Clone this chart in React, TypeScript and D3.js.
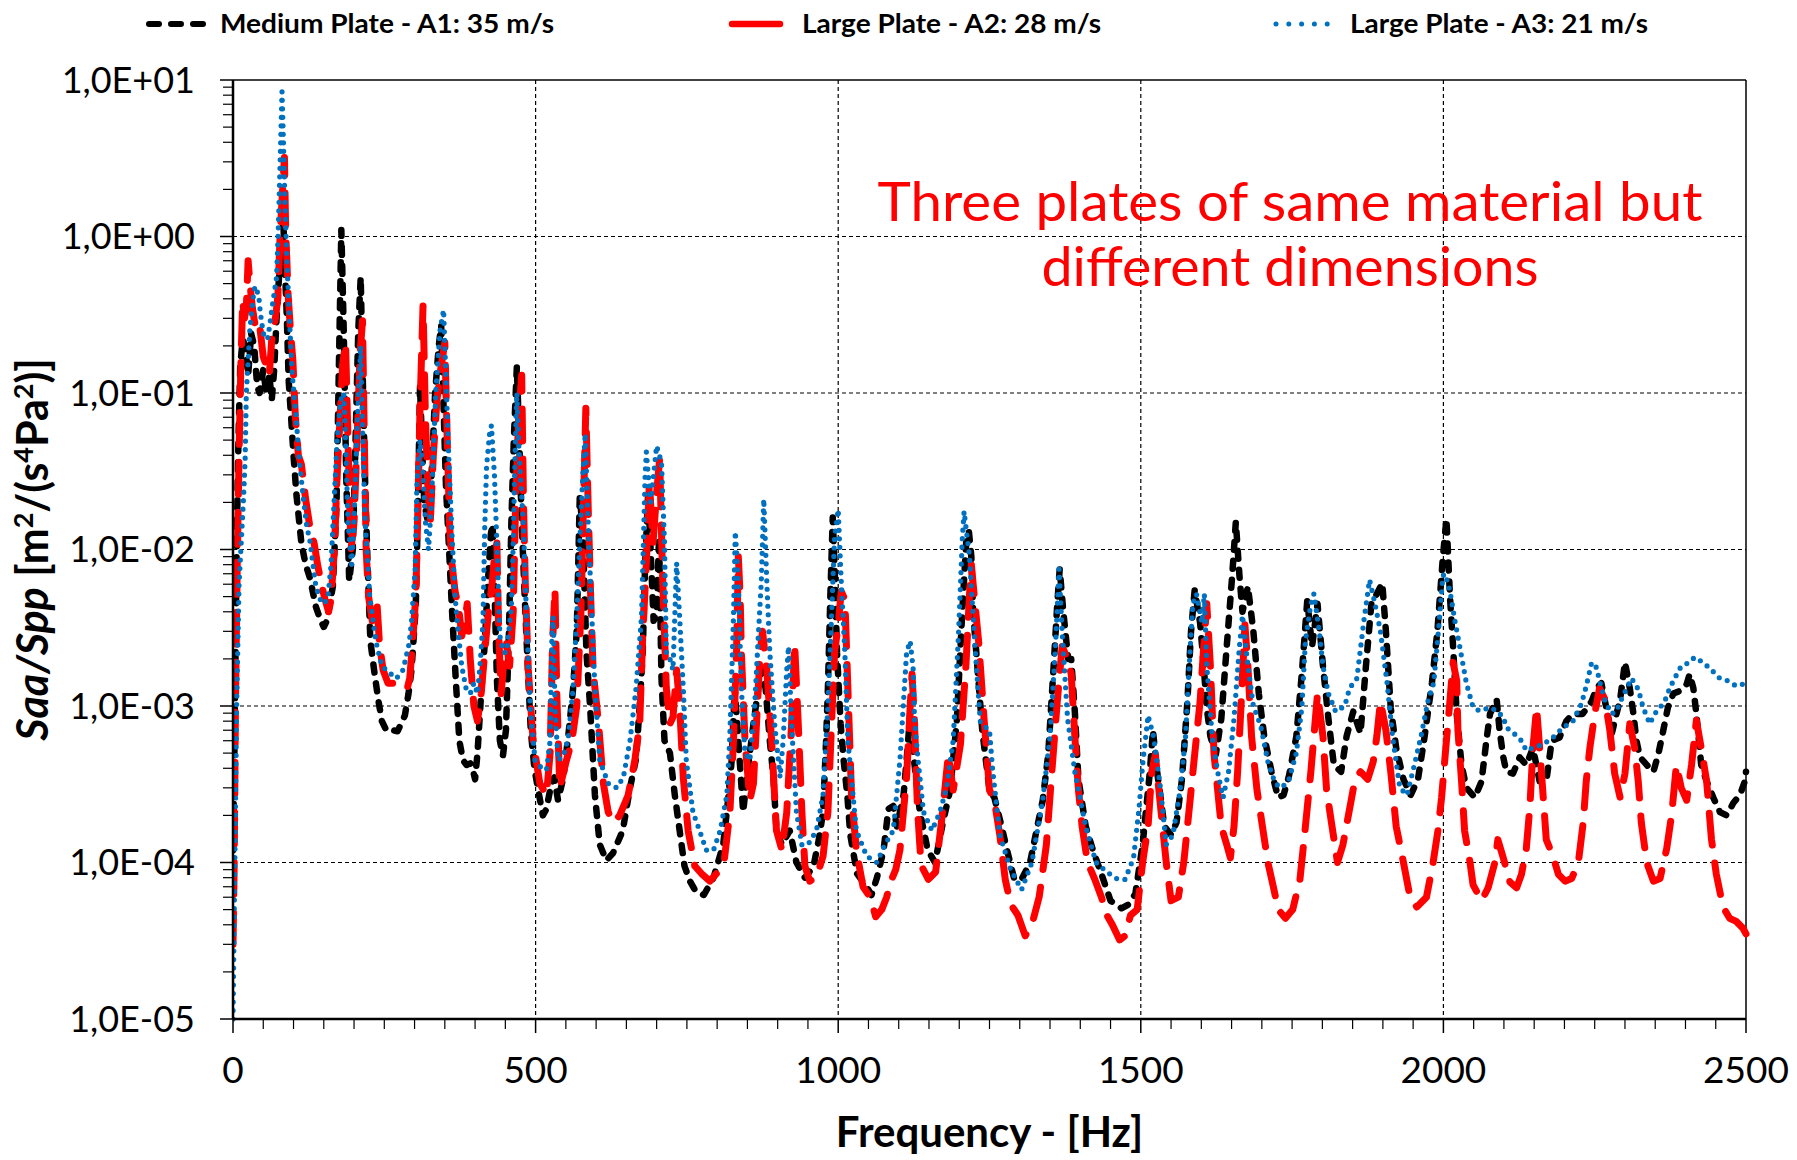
import React from 'react';
import * as d3 from 'd3';

// ---------- data (frequency [Hz], Saa/Spp value) ----------
const seriesNames = ['Medium Plate - A1: 35 m/s', 'Large Plate - A2: 28 m/s', 'Large Plate - A3: 21 m/s'];

const mediumA1: [number, number][] = [
  [0, 1.2e-4], [2, 4e-4], [4, 2e-3], [6, 0.01], [9, 0.05], [12, 0.15], [16, 0.22], [20, 0.2], [25, 0.13], [30, 0.24], [35, 0.2], [40, 0.11], [44, 0.1], [50, 0.14], [55, 0.1], [60, 0.13], [64, 0.09], [68, 0.14], [72, 0.3], [76, 0.55], [80, 0.7], [83, 1.3], [86, 0.6], [89, 0.3], [92, 0.12], [96, 0.07], [100, 0.04], [105, 0.022], [113, 0.011], [120, 0.008], [127, 0.0066], [137, 0.0043], [145, 0.0035], [150, 0.0032], [155, 0.0035], [160, 0.0045], [165, 0.0058], [171, 0.019], [175, 0.15], [179, 1.1], [183, 0.25], [187, 0.03], [192, 0.0063], [198, 0.01], [203, 0.06], [207, 0.25], [211, 0.55], [214, 0.15], [218, 0.03], [222, 0.009], [227, 0.0026], [234, 0.0016], [240, 0.0011], [246, 0.0008], [254, 0.00069], [264, 0.0007], [272, 0.00069], [284, 0.00087], [290, 0.0012], [295, 0.0017], [302, 0.0043], [305, 0.014], [309, 0.11], [313, 0.04], [316, 0.02], [322, 0.015], [328, 0.03], [334, 0.1], [340, 0.2], [344, 0.27], [348, 0.08], [352, 0.025], [357, 0.01], [362, 0.004], [368, 0.0015], [374, 0.0006], [380, 0.00045], [386, 0.00042], [392, 0.00043], [397, 0.00038], [400, 0.00034], [404, 0.0005], [410, 0.0012], [416, 0.0025], [421, 0.006], [426, 0.0125], [429, 0.0145], [432, 0.006], [436, 0.0015], [441, 0.0006], [446, 0.00048], [451, 0.0007], [456, 0.003], [460, 0.015], [464, 0.05], [469, 0.147], [473, 0.05], [477, 0.015], [482, 0.005], [487, 0.0018], [492, 0.0007], [498, 0.0004], [505, 0.00028], [512, 0.0002], [518, 0.00022], [526, 0.00032], [531, 0.00035], [537, 0.00025], [546, 0.00035], [555, 0.0007], [562, 0.0013], [568, 0.003], [573, 0.022], [578, 0.013], [584, 0.0022], [590, 0.001], [598, 0.00027], [606, 0.00013], [617, 0.000103], [628, 0.000115], [644, 0.00016], [656, 0.0003], [666, 0.00046], [672, 0.001], [677, 0.0022], [681, 0.008], [686, 0.023], [690, 0.01], [695, 0.0035], [700, 0.004], [704, 0.012], [708, 0.0015], [713, 0.0006], [722, 0.0005], [730, 0.00027], [738, 0.00016], [746, 0.000095], [755, 0.000076], [765, 0.000065], [778, 0.000062], [794, 0.00008], [810, 0.00013], [818, 0.00025], [824, 0.00045], [829, 0.0013], [835, 0.0006], [843, 0.00021], [849, 0.00035], [860, 0.00077], [868, 0.0013], [873, 0.0017], [880, 0.0013], [887, 0.0006], [893, 0.00035], [898, 0.00016], [907, 0.00013], [920, 0.00016], [931, 0.0001], [945, 0.00008], [959, 0.000094], [968, 0.00014], [975, 0.00021], [980, 0.0006], [983, 0.0013], [987, 0.005], [991, 0.016], [995, 0.006], [998, 0.0022], [1004, 0.00077], [1009, 0.00045], [1015, 0.00027], [1020, 0.00015], [1031, 0.000085], [1047, 0.00007], [1055, 0.000062], [1064, 0.00008], [1075, 0.00012], [1083, 0.00022], [1091, 0.00023], [1097, 0.00017], [1108, 0.00027], [1114, 0.0005], [1119, 0.0009], [1124, 0.0005], [1135, 0.00021], [1148, 0.00012], [1160, 0.0001], [1173, 0.00018], [1185, 0.00029], [1196, 0.0008], [1205, 0.004], [1212, 0.012], [1216, 0.013], [1220, 0.009], [1223, 0.004], [1229, 0.002], [1238, 0.0007], [1250, 0.00029], [1258, 0.00026], [1270, 0.00017], [1279, 0.00012], [1291, 0.000078], [1303, 0.000078], [1317, 0.0001], [1329, 0.00017], [1338, 0.00025], [1347, 0.00049], [1356, 0.0018], [1362, 0.0045], [1366, 0.0075], [1372, 0.004], [1380, 0.002], [1385, 0.002], [1391, 0.00092], [1397, 0.00034], [1409, 0.00017], [1421, 0.00012], [1438, 0.000078], [1450, 0.000057], [1468, 0.000051], [1480, 0.000054], [1491, 0.000063], [1503, 0.00013], [1515, 0.00038], [1520, 0.0007], [1527, 0.00038], [1539, 0.00017], [1550, 0.00015], [1559, 0.00018], [1568, 0.00034], [1577, 0.00107], [1583, 0.003], [1589, 0.0055], [1598, 0.0034], [1604, 0.0018], [1609, 0.00097], [1615, 0.00064], [1624, 0.00049], [1633, 0.00083], [1642, 0.0024], [1651, 0.0068], [1657, 0.015], [1663, 0.0068], [1668, 0.004], [1677, 0.0058], [1686, 0.003], [1695, 0.0012], [1704, 0.00064], [1716, 0.00038], [1727, 0.00026], [1736, 0.00027], [1745, 0.00036], [1757, 0.00064], [1766, 0.0016], [1775, 0.0047], [1783, 0.0024], [1792, 0.0045], [1801, 0.0018], [1810, 0.00083], [1819, 0.00042], [1831, 0.00038], [1840, 0.00064], [1851, 0.00092], [1863, 0.00067], [1872, 0.0018], [1881, 0.0045], [1890, 0.0052], [1899, 0.0061], [1905, 0.003], [1913, 0.00097], [1922, 0.00054], [1934, 0.00034], [1946, 0.00027], [1958, 0.00034], [1969, 0.00064], [1981, 0.0014], [1990, 0.003], [1999, 0.0088], [2005, 0.0157], [2011, 0.0049], [2016, 0.0024], [2022, 0.00089], [2030, 0.00042], [2038, 0.0003], [2052, 0.00026], [2063, 0.00033], [2071, 0.0006], [2077, 0.00089], [2088, 0.0011], [2093, 0.00069], [2099, 0.00047], [2104, 0.00038], [2115, 0.00037], [2126, 0.00047], [2137, 0.00042], [2148, 0.00054], [2159, 0.00033], [2170, 0.00033], [2179, 0.0006], [2192, 0.00063], [2203, 0.0008], [2214, 0.00089], [2230, 0.00089], [2245, 0.00107], [2253, 0.0013], [2261, 0.0014], [2269, 0.00098], [2278, 0.00066], [2286, 0.00089], [2292, 0.0011], [2300, 0.0019], [2308, 0.0013], [2314, 0.00089], [2319, 0.0006], [2325, 0.00047], [2336, 0.00042], [2347, 0.00038], [2355, 0.00049], [2363, 0.00069], [2371, 0.00098], [2380, 0.0012], [2391, 0.00125], [2402, 0.00138], [2407, 0.0016], [2413, 0.0013], [2418, 0.00089], [2426, 0.00042], [2435, 0.00033], [2446, 0.00026], [2457, 0.00021], [2468, 0.0002], [2479, 0.00024], [2490, 0.00027], [2498, 0.00033], [2500, 0.00038],
];

const largeA2: [number, number][] = [
  [0, 3e-5], [2, 1e-4], [4, 1e-3], [7, 0.008], [10, 0.04], [13, 0.15], [16, 0.39], [19, 0.3], [22, 0.35], [25, 0.7], [28, 0.5], [32, 0.35], [36, 0.28], [40, 0.3], [45, 0.25], [50, 0.17], [55, 0.15], [60, 0.13], [64, 0.22], [70, 0.3], [74, 0.4], [78, 1.05], [82, 2], [85, 3.2], [87, 1.1], [89, 0.7], [91, 0.43], [95, 0.25], [99, 0.16], [103, 0.071], [108, 0.04], [113, 0.035], [120, 0.021], [127, 0.014], [134, 0.011], [140, 0.0079], [147, 0.0058], [152, 0.0048], [158, 0.004], [162, 0.0048], [168, 0.0107], [172, 0.03], [177, 0.07], [181, 0.15], [186, 0.21], [190, 0.05], [195, 0.01], [200, 0.015], [205, 0.05], [210, 0.18], [214, 0.29], [217, 0.05], [220, 0.01], [224, 0.005], [230, 0.0035], [238, 0.0045], [242, 0.0025], [248, 0.0017], [256, 0.0014], [268, 0.0014], [280, 0.0013], [288, 0.0013], [292, 0.0015], [297, 0.0026], [302, 0.005], [305, 0.015], [309, 0.08], [314, 0.36], [318, 0.07], [322, 0.025], [326, 0.015], [331, 0.04], [337, 0.09], [343, 0.14], [350, 0.21], [354, 0.05], [358, 0.014], [362, 0.008], [367, 0.0054], [373, 0.0042], [378, 0.0028], [383, 0.0035], [387, 0.0045], [392, 0.002], [398, 0.001], [404, 0.0008], [410, 0.0012], [416, 0.0022], [422, 0.004], [428, 0.006], [432, 0.009], [436, 0.011], [439, 0.003], [443, 0.0012], [448, 0.002], [452, 0.0025], [457, 0.0018], [463, 0.004], [467, 0.02], [472, 0.07], [477, 0.13], [480, 0.02], [483, 0.006], [488, 0.0017], [496, 0.00059], [507, 0.00032], [518, 0.00027], [524, 0.0005], [528, 0.0025], [532, 0.0056], [535, 0.0012], [540, 0.0003], [551, 0.00045], [560, 0.0006], [568, 0.001], [575, 0.004], [579, 0.018], [583, 0.08], [587, 0.018], [591, 0.005], [595, 0.0017], [604, 0.00077], [612, 0.00032], [620, 0.00021], [628, 0.00018], [639, 0.0002], [653, 0.00027], [664, 0.00045], [672, 0.00077], [677, 0.0028], [683, 0.0082], [688, 0.027], [694, 0.011], [700, 0.023], [705, 0.038], [710, 0.0063], [716, 0.0013], [722, 0.00077], [727, 0.00085], [733, 0.0017], [738, 0.001], [744, 0.00035], [752, 0.00016], [763, 0.000095], [774, 0.000085], [788, 0.000076], [799, 0.000085], [812, 0.000105], [821, 0.00021], [827, 0.0006], [832, 0.0022], [835, 0.009], [838, 0.005], [840, 0.0022], [846, 0.0006], [854, 0.00025], [860, 0.00032], [865, 0.00077], [871, 0.0022], [875, 0.003], [882, 0.0017], [890, 0.0006], [898, 0.00016], [907, 0.00012], [915, 0.00021], [923, 0.00077], [928, 0.0025], [934, 0.00077], [940, 0.00021], [945, 0.000095], [953, 0.000076], [964, 0.00008], [975, 0.00011], [983, 0.00021], [989, 0.00077], [994, 0.0022], [1000, 0.0033], [1005, 0.0054], [1011, 0.0048], [1014, 0.0022], [1016, 0.0013], [1022, 0.00027], [1030, 0.00012], [1041, 0.00007], [1053, 0.00006], [1062, 0.000045], [1072, 0.00005], [1080, 0.00006], [1087, 0.000076], [1095, 0.00009], [1102, 0.00012], [1113, 0.00035], [1119, 0.001], [1122, 0.0016], [1126, 0.0008], [1131, 0.00022], [1137, 0.000096], [1149, 0.000078], [1161, 0.000087], [1173, 0.00022], [1182, 0.00049], [1190, 0.00029], [1202, 0.00057], [1211, 0.0018], [1217, 0.0052], [1220, 0.008], [1226, 0.0045], [1232, 0.0026], [1241, 0.00083], [1250, 0.00029], [1258, 0.00025], [1267, 0.00015], [1276, 0.000078], [1285, 0.000054], [1297, 0.000046], [1309, 0.000034], [1320, 0.00004], [1332, 0.00006], [1344, 0.00013], [1353, 0.00038], [1362, 0.00107], [1370, 0.0024], [1379, 0.002], [1385, 0.0016], [1391, 0.00064], [1397, 0.00029], [1403, 0.00017], [1412, 0.0001], [1424, 0.000078], [1435, 0.00006], [1444, 0.000046], [1453, 0.00004], [1465, 0.000032], [1474, 0.000034], [1483, 0.000046], [1494, 0.00005], [1503, 0.0001], [1512, 0.00017], [1518, 0.00038], [1524, 0.00049], [1533, 0.00022], [1542, 0.0001], [1550, 0.000057], [1562, 0.00006], [1571, 0.0001], [1580, 0.00022], [1589, 0.00049], [1598, 0.00107], [1604, 0.0024], [1609, 0.0045], [1615, 0.0018], [1621, 0.00049], [1627, 0.00029], [1633, 0.00017], [1642, 0.00013], [1648, 0.000107], [1654, 0.00017], [1660, 0.00038], [1666, 0.00107], [1672, 0.0033], [1677, 0.0018], [1683, 0.00064], [1692, 0.00029], [1701, 0.00017], [1710, 0.0001], [1719, 0.00007], [1727, 0.00005], [1739, 0.000044], [1751, 0.00005], [1763, 0.000078], [1772, 0.00017], [1781, 0.00038], [1786, 0.00064], [1792, 0.0012], [1801, 0.00064], [1807, 0.00029], [1816, 0.00017], [1825, 0.0001], [1834, 0.00013], [1845, 0.00022], [1854, 0.00034], [1863, 0.00038], [1875, 0.00034], [1884, 0.00044], [1890, 0.00064], [1896, 0.00107], [1905, 0.0007], [1913, 0.00038], [1922, 0.00017], [1934, 0.0001], [1945, 0.00006], [1956, 0.000052], [1972, 0.00006], [1983, 0.0001], [1991, 0.00016], [1997, 0.00026], [2005, 0.0006], [2011, 0.0011], [2016, 0.0019], [2022, 0.00145], [2024, 0.0007], [2030, 0.00033], [2035, 0.00016], [2044, 0.0001], [2049, 0.000072], [2063, 0.000057], [2074, 0.000069], [2085, 0.0001], [2090, 0.00014], [2099, 0.000107], [2110, 0.000075], [2121, 0.000069], [2129, 0.000084], [2137, 0.000123], [2143, 0.00023], [2148, 0.00054], [2154, 0.00098], [2159, 0.00054], [2165, 0.00026], [2170, 0.00014], [2181, 0.00011], [2190, 0.000084], [2201, 0.000076], [2212, 0.000079], [2223, 0.0001], [2231, 0.00018], [2236, 0.00033], [2242, 0.00054], [2250, 0.00089], [2258, 0.0013], [2267, 0.0011], [2275, 0.0007], [2283, 0.00037], [2292, 0.00026], [2300, 0.00037], [2308, 0.00077], [2316, 0.00054], [2322, 0.00033], [2327, 0.00018], [2336, 0.0001], [2347, 0.000076], [2358, 0.000079], [2369, 0.000123], [2377, 0.0002], [2385, 0.00042], [2393, 0.0003], [2402, 0.00025], [2410, 0.00042], [2418, 0.00081], [2426, 0.00054], [2435, 0.00033], [2443, 0.00014], [2451, 0.000084], [2462, 0.000052], [2473, 0.000044], [2484, 0.000042], [2495, 0.000038], [2500, 0.000035],
];

const largeA3: [number, number][] = [
  [0, 1e-5], [3, 1e-4], [6, 1e-3], [10, 0.006], [13, 0.01], [17, 0.02], [20, 0.037], [22, 0.1], [28, 0.26], [35, 0.46], [38, 0.48], [43, 0.4], [45, 0.33], [50, 0.24], [57, 0.22], [60, 0.26], [65, 0.36], [72, 0.55], [75, 1.16], [78, 3.1], [81, 8.4], [83, 4.5], [86, 1.6], [89, 0.7], [94, 0.26], [98, 0.13], [103, 0.08], [110, 0.036], [117, 0.02], [122, 0.014], [127, 0.0114], [137, 0.0058], [145, 0.0047], [151, 0.0045], [157, 0.005], [162, 0.008], [167, 0.02], [172, 0.05], [178, 0.09], [183, 0.1], [186, 0.05], [190, 0.015], [196, 0.008], [200, 0.015], [205, 0.06], [211, 0.2], [214, 0.06], [218, 0.016], [226, 0.005], [236, 0.0026], [246, 0.0018], [261, 0.0016], [270, 0.0015], [281, 0.0017], [291, 0.0025], [295, 0.0035], [301, 0.0075], [304, 0.027], [309, 0.05], [313, 0.035], [318, 0.015], [323, 0.01], [328, 0.02], [335, 0.1], [342, 0.25], [348, 0.34], [352, 0.12], [357, 0.035], [362, 0.012], [367, 0.005], [372, 0.003], [378, 0.0018], [385, 0.0013], [392, 0.0012], [398, 0.0014], [404, 0.0012], [409, 0.002], [413, 0.0034], [416, 0.014], [419, 0.034], [424, 0.055], [427, 0.062], [432, 0.03], [436, 0.011], [441, 0.0028], [447, 0.0022], [452, 0.0022], [460, 0.0043], [463, 0.011], [466, 0.04], [469, 0.1], [473, 0.04], [480, 0.014], [485, 0.0037], [491, 0.001], [499, 0.00045], [510, 0.0004], [518, 0.00039], [524, 0.0006], [527, 0.0028], [529, 0.0037], [532, 0.001], [537, 0.00045], [546, 0.00048], [554, 0.00063], [562, 0.0013], [568, 0.0037], [573, 0.011], [578, 0.03], [582, 0.055], [587, 0.014], [593, 0.0037], [598, 0.0013], [606, 0.00045], [620, 0.00032], [634, 0.0003], [645, 0.00035], [656, 0.0006], [666, 0.0013], [675, 0.0037], [681, 0.03], [683, 0.042], [690, 0.02], [695, 0.03], [700, 0.046], [708, 0.036], [713, 0.011], [716, 0.0022], [722, 0.002], [727, 0.0017], [733, 0.0082], [738, 0.0037], [744, 0.0013], [749, 0.00045], [760, 0.00021], [771, 0.00016], [782, 0.00012], [794, 0.00012], [805, 0.00016], [816, 0.00027], [821, 0.00065], [827, 0.0037], [830, 0.013], [835, 0.0063], [840, 0.0013], [846, 0.0005], [854, 0.00045], [862, 0.001], [868, 0.0028], [873, 0.0063], [877, 0.021], [882, 0.0063], [887, 0.0022], [895, 0.00077], [904, 0.00035], [909, 0.0006], [915, 0.0017], [918, 0.0024], [923, 0.00077], [931, 0.00021], [940, 0.00013], [950, 0.00013], [964, 0.00016], [975, 0.00027], [983, 0.001], [989, 0.0037], [994, 0.012], [1000, 0.018], [1005, 0.0063], [1011, 0.0022], [1016, 0.0006], [1030, 0.00016], [1047, 0.00011], [1064, 0.0001], [1077, 0.00013], [1091, 0.00016], [1102, 0.00045], [1113, 0.0022], [1119, 0.0026], [1124, 0.0017], [1126, 0.00083], [1132, 0.00045], [1141, 0.00021], [1155, 0.00016], [1168, 0.00021], [1179, 0.0003], [1190, 0.0006], [1199, 0.003], [1205, 0.0115], [1208, 0.0175], [1217, 0.009], [1226, 0.0024], [1235, 0.00078], [1250, 0.0007], [1255, 0.0004], [1267, 0.00015], [1285, 0.00009], [1303, 0.000067], [1320, 0.0001], [1338, 0.00025], [1350, 0.00064], [1359, 0.0024], [1365, 0.0075], [1370, 0.003], [1379, 0.00083], [1391, 0.00038], [1409, 0.00017], [1426, 0.0001], [1444, 0.000087], [1462, 0.000078], [1474, 0.000078], [1488, 0.000107], [1497, 0.00022], [1503, 0.00042], [1512, 0.00087], [1521, 0.00064], [1533, 0.00029], [1542, 0.00013], [1553, 0.00015], [1565, 0.00029], [1574, 0.00064], [1580, 0.0018], [1586, 0.0045], [1592, 0.0052], [1601, 0.0034], [1605, 0.0052], [1609, 0.0018], [1618, 0.00064], [1627, 0.00038], [1636, 0.00026], [1645, 0.00038], [1654, 0.00083], [1663, 0.0024], [1668, 0.0038], [1677, 0.0018], [1686, 0.001], [1698, 0.00075], [1710, 0.00044], [1722, 0.00032], [1733, 0.0003], [1745, 0.00034], [1757, 0.0005], [1766, 0.00097], [1772, 0.0026], [1781, 0.0045], [1786, 0.0052], [1795, 0.003], [1801, 0.0018], [1810, 0.0012], [1822, 0.00092], [1837, 0.001], [1845, 0.0013], [1857, 0.0015], [1869, 0.0036], [1878, 0.0064], [1887, 0.0045], [1896, 0.003], [1907, 0.0014], [1916, 0.00064], [1928, 0.0003], [1940, 0.00027], [1952, 0.00042], [1963, 0.00064], [1975, 0.0011], [1984, 0.0014], [1993, 0.0034], [1999, 0.0068], [2003, 0.007], [2011, 0.0054], [2019, 0.0035], [2027, 0.0024], [2038, 0.0014], [2049, 0.00098], [2060, 0.00093], [2077, 0.00098], [2088, 0.00093], [2099, 0.00085], [2104, 0.00073], [2118, 0.00066], [2129, 0.0006], [2137, 0.00052], [2148, 0.00054], [2165, 0.00057], [2181, 0.00063], [2198, 0.00073], [2214, 0.0008], [2228, 0.00103], [2234, 0.00125], [2239, 0.0015], [2245, 0.0019], [2253, 0.00176], [2258, 0.00145], [2267, 0.00108], [2278, 0.00089], [2286, 0.00093], [2294, 0.0011], [2303, 0.0013], [2311, 0.0015], [2322, 0.00128], [2330, 0.00098], [2341, 0.00077], [2349, 0.00089], [2358, 0.00098], [2366, 0.00108], [2374, 0.0013], [2382, 0.0015], [2393, 0.0018], [2407, 0.0019], [2415, 0.00205], [2429, 0.0019], [2443, 0.0017], [2457, 0.0015], [2470, 0.00145], [2484, 0.00134], [2495, 0.00138], [2500, 0.00145],
];

const xTickValues = [0, 500, 1000, 1500, 2000, 2500];
const yTickValues = [1e1, 1e0, 1e-1, 1e-2, 1e-3, 1e-4, 1e-5];
const yTickLabels = ['1,0E+01', '1,0E+00', '1,0E-01', '1,0E-02', '1,0E-03', '1,0E-04', '1,0E-05'];
const annotationLines = ['Three plates of same material but', 'different dimensions'];

// ---------- layout ----------
const W = 1797;
const H = 1160;
const PL = 233, PR = 1746, PT = 80, PB = 1019;
const FONT = "Lato, 'Open Sans', 'DejaVu Sans', sans-serif";

export default function App() {
  const x = d3.scaleLinear().domain([0, 2500]).range([PL, PR]);
  const y = d3.scaleLog().domain([1e-5, 10]).range([PB, PT]);
  const line = d3.line<[number, number]>().x(d => x(d[0])).y(d => y(d[1]));

  const minorY: number[] = [];
  for (let e = -5; e < 1; e++) for (let m = 2; m <= 9; m++) minorY.push(m * Math.pow(10, e));
  const minorX = d3.range(0, 2501, 50).filter(v => v % 500 !== 0);

  const styles = [
    { data: mediumA1, stroke: '#000000', width: 6.5, dash: '8 11' },
    { data: largeA2, stroke: '#FF0000', width: 7, dash: '32 18' },
    { data: largeA3, stroke: '#0070C0', width: 5.2, dash: '0 8.5' },
  ];

  return (
    <div style={{ position: 'absolute', left: 0, top: 0, width: W, height: H, background: '#fff' }}>
      <svg width={W} height={H} viewBox={`0 0 ${W} ${H}`} style={{ display: 'block' }}>
        <rect x={0} y={0} width={W} height={H} fill="#fff" />
        <defs>
          <clipPath id="plotClip">
            <rect x={PL} y={PT - 4} width={PR - PL + 4} height={PB - PT + 8} />
          </clipPath>
        </defs>

        {/* gridlines */}
        {yTickValues.slice(1, -1).map(v => (
          <line key={'gy' + v} x1={PL} x2={PR} y1={y(v)} y2={y(v)} stroke="#000" strokeWidth={1.2} strokeDasharray="4 3" />
        ))}
        {xTickValues.slice(1, -1).map(v => (
          <line key={'gx' + v} x1={x(v)} x2={x(v)} y1={PT} y2={PB} stroke="#000" strokeWidth={1.2} strokeDasharray="4 3" />
        ))}

        {/* plot border */}
        <line x1={PL} x2={PR} y1={PT} y2={PT} stroke="#000" strokeWidth={1.5} />
        <line x1={PR} x2={PR} y1={PT} y2={PB} stroke="#000" strokeWidth={1.5} />

        {/* series */}
        <g clipPath="url(#plotClip)">
          {styles.map((s, i) => (
            <path key={i} d={line(s.data) || ''} fill="none" stroke={s.stroke} strokeWidth={s.width}
              strokeDasharray={s.dash} strokeLinecap="round" strokeLinejoin="round" />
          ))}
        </g>

        {/* axes */}
        <line x1={PL} x2={PL} y1={PT} y2={PB} stroke="#000" strokeWidth={2.5} />
        <line x1={PL} x2={PR} y1={PB} y2={PB} stroke="#000" strokeWidth={2.5} />

        {/* y ticks */}
        {yTickValues.map(v => (
          <line key={'ty' + v} x1={PL - 13} x2={PL} y1={y(v)} y2={y(v)} stroke="#000" strokeWidth={1.5} />
        ))}
        {minorY.map(v => (
          <line key={'my' + v} x1={PL - 10} x2={PL} y1={y(v)} y2={y(v)} stroke="#000" strokeWidth={1.2} />
        ))}
        {yTickValues.map((v, i) => (
          <text key={'ly' + v} x={195} y={y(v)} dy="0.35em" textAnchor="end" fontFamily={FONT} fontSize={36} fill="#000">
            {yTickLabels[i]}
          </text>
        ))}

        {/* x ticks */}
        {xTickValues.map(v => (
          <line key={'tx' + v} x1={x(v)} x2={x(v)} y1={PB} y2={PB + 14} stroke="#000" strokeWidth={1.5} />
        ))}
        {minorX.map(v => (
          <line key={'mx' + v} x1={x(v)} x2={x(v)} y1={PB} y2={PB + 10} stroke="#000" strokeWidth={1.2} />
        ))}
        {xTickValues.map(v => (
          <text key={'lx' + v} x={x(v)} y={1083} textAnchor="middle" fontFamily={FONT} fontSize={37} fill="#000">
            {v}
          </text>
        ))}

        {/* axis titles */}
        <text x={(PL + PR) / 2} y={1147} textAnchor="middle" fontFamily={FONT} fontWeight="bold" fontSize={42} fill="#000">
          Frequency - [Hz]
        </text>
        <text transform={`translate(48, ${(PT + PB) / 2}) rotate(-90)`} textAnchor="middle" fontFamily={FONT} fontWeight="bold" fontSize={43} fill="#000">
          <tspan fontStyle="italic">Saa/Spp</tspan>
          <tspan> [m</tspan>
          <tspan fontSize={27} dy={-15}>2</tspan>
          <tspan dy={15}>/(s</tspan>
          <tspan fontSize={27} dy={-15}>4</tspan>
          <tspan dy={15}>Pa</tspan>
          <tspan fontSize={27} dy={-15}>2</tspan>
          <tspan dy={15}>)]</tspan>
        </text>

        {/* annotation */}
        {annotationLines.map((t, i) => (
          <text key={'an' + i} x={1290} y={221 + i * 65} textAnchor="middle" fontFamily={FONT} fontSize={54} fill="#FF0000"
            textLength={i === 0 ? 825 : 497} lengthAdjust="spacingAndGlyphs">
            {t}
          </text>
        ))}

        {/* legend */}
        <g>
          <line x1={149} x2={209} y1={24} y2={24} stroke="#000" strokeWidth={6} strokeDasharray="10 12" strokeLinecap="round" />
          <text x={220} y={33} fontFamily={FONT} fontWeight="bold" fontSize={26} fill="#000" textLength={334} lengthAdjust="spacingAndGlyphs">
            {seriesNames[0]}
          </text>
          <line x1={732} x2={780} y1={24} y2={24} stroke="#FF0000" strokeWidth={6.5} strokeLinecap="round" />
          <text x={802} y={33} fontFamily={FONT} fontWeight="bold" fontSize={26} fill="#000" textLength={299} lengthAdjust="spacingAndGlyphs">
            {seriesNames[1]}
          </text>
          <line x1={1276} x2={1340} y1={24} y2={24} stroke="#0070C0" strokeWidth={5} strokeDasharray="0 12.8" strokeLinecap="round" />
          <text x={1350} y={33} fontFamily={FONT} fontWeight="bold" fontSize={26} fill="#000" textLength={298} lengthAdjust="spacingAndGlyphs">
            {seriesNames[2]}
          </text>
        </g>
      </svg>
    </div>
  );
}
